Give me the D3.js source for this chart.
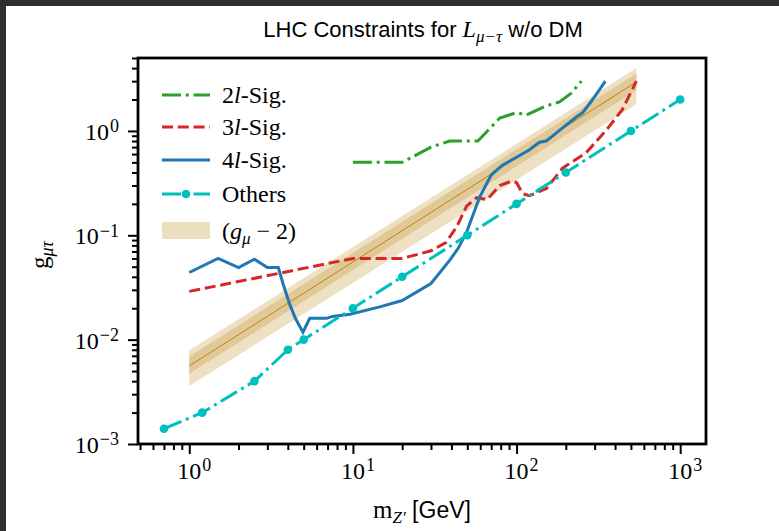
<!DOCTYPE html>
<html>
<head>
<meta charset="utf-8">
<script src="https://cdn.jsdelivr.net/npm/d3@7"></script>
<style>
  body { margin: 0; background: #fff; }
  svg text { fill: #000; }
</style>
</head>
<body>
<svg id="chart" width="779" height="531"></svg>
<script>
// values
const others_m = [0.7, 1.2, 2.5, 4, 5, 10, 20, 50, 100, 200, 500, 1000];
const others_g = [0.0014, 0.002, 0.004, 0.008, 0.01, 0.02, 0.04, 0.1, 0.2, 0.4, 1.0, 2.0];

const sig2_m = [10, 20, 30, 39, 58, 79, 100, 115, 152, 183, 216, 249];
const sig2_g = [0.5, 0.5, 0.7, 0.8, 0.8, 1.33, 1.5, 1.42, 1.74, 1.9, 2.3, 3.0];

const sig3_m = [1, 10, 20, 30, 37, 43, 49.5, 57, 66, 79, 93, 100, 109, 120, 152, 191, 267, 354, 443, 540];
const sig3_g = [0.029, 0.06, 0.06, 0.071, 0.085, 0.12, 0.19, 0.23, 0.22, 0.3, 0.33, 0.32, 0.25, 0.24, 0.28, 0.44, 0.62, 1.02, 1.6, 3.0];

const sig4_m = [1, 1.5, 2, 2.5, 3, 3.5, 3.75, 4.1, 4.45, 4.95, 5.45, 6.9, 7.5, 9.6, 14.6, 20, 30, 39, 44, 49.5, 59.5, 70, 82, 100, 120, 138, 152, 191, 232, 253, 291, 349];
const sig4_g = [0.044, 0.06, 0.049, 0.059, 0.049, 0.049, 0.034, 0.022, 0.016, 0.0118, 0.016, 0.016, 0.0167, 0.0175, 0.0206, 0.0237, 0.0345, 0.0575, 0.075, 0.107, 0.232, 0.378, 0.47, 0.56, 0.66, 0.78, 0.8, 1.07, 1.36, 1.49, 1.99, 3.0];

// (g_mu - 2) band: central value with 1 and 2 sigma edges
const band_m = [1, 540];
const band_mid = [0.0056, 2.95];
const band_lo1 = [0.0047, 2.45];
const band_hi1 = [0.0069, 3.55];
const band_lo2 = [0.0036, 1.8];
const band_hi2 = [0.0079, 4.0];

const xMajor = [1, 10, 100, 1000];
const yMajor = [1e-3, 1e-2, 1e-1, 1];
const xLabels = ['0', '1', '2', '3'];
const yLabels = ['−3', '−2', '−1', '0'];

const svg = d3.select('#chart');
const pLeft = 138, pTop = 58, pRight = 706, pBottom = 444;

const x = d3.scaleLog().domain([0.486, 1438]).range([pLeft, pRight]);
const y = d3.scaleLog().domain([1e-3, 5]).range([pBottom, pTop]);

const LW = 3;
const DASHDOT = '19,4.8,3,4.8';
const DASHED = '11,4.8';

// dark border of the screenshot
svg.append('rect').attr('x', 0).attr('y', 0).attr('width', 779).attr('height', 6).attr('fill', '#2f2f2f');
svg.append('rect').attr('x', 0).attr('y', 0).attr('width', 6).attr('height', 531).attr('fill', '#2f2f2f');

svg.append('clipPath').attr('id', 'clip')
  .append('rect')
  .attr('x', pLeft).attr('y', pTop)
  .attr('width', pRight - pLeft).attr('height', pBottom - pTop);

const plot = svg.append('g').attr('clip-path', 'url(#clip)');

const bandData = band_m.map((m, i) => ({
  m, mid: band_mid[i], lo1: band_lo1[i], hi1: band_hi1[i], lo2: band_lo2[i], hi2: band_hi2[i]
}));

plot.append('path')
  .datum(bandData)
  .attr('fill', '#eee1c3')
  .attr('d', d3.area().x(d => x(d.m)).y0(d => y(d.lo2)).y1(d => y(d.hi2)));
plot.append('path')
  .datum(bandData)
  .attr('fill', '#e0c898')
  .attr('d', d3.area().x(d => x(d.m)).y0(d => y(d.lo1)).y1(d => y(d.hi1)));
plot.append('path')
  .datum(bandData)
  .attr('fill', 'none')
  .attr('stroke', '#b8860b')
  .attr('stroke-width', 1)
  .attr('d', d3.line().x(d => x(d.m)).y(d => y(d.mid)));

const line = d3.line().x(d => x(d[0])).y(d => y(d[1]));
const zip = (a, b) => a.map((v, i) => [v, b[i]]);

const series = [
  { name: '2l', m: sig2_m, g: sig2_g, color: '#2ca02c', dash: DASHDOT },
  { name: '3l', m: sig3_m, g: sig3_g, color: '#d62728', dash: DASHED },
  { name: '4l', m: sig4_m, g: sig4_g, color: '#1f77b4', dash: null },
  { name: 'others', m: others_m, g: others_g, color: '#00bfbf', dash: DASHDOT }
];

series.forEach(s => {
  plot.append('path')
    .datum(zip(s.m, s.g))
    .attr('fill', 'none')
    .attr('stroke', s.color)
    .attr('stroke-width', LW)
    .attr('stroke-dasharray', s.dash)
    .attr('d', line);
});

plot.selectAll('circle.others')
  .data(zip(others_m, others_g))
  .enter()
  .append('circle')
  .attr('cx', d => x(d[0]))
  .attr('cy', d => y(d[1]))
  .attr('r', 4.3)
  .attr('fill', '#00bfbf');

// axes ticks
const minorTicks = (scale) => {
  const [a, b] = scale.domain();
  const out = [];
  for (let e = Math.floor(Math.log10(a)); e <= Math.ceil(Math.log10(b)); e += 1) {
    for (let k = 2; k <= 9; k += 1) {
      const v = k * Math.pow(10, e);
      if (v >= a && v <= b * 1.0001) out.push(v);
    }
  }
  return out;
};

const styleAxis = g => {
  g.select('.domain').remove();
  g.selectAll('line').attr('stroke', '#000').attr('stroke-width', 2);
};

svg.append('g')
  .attr('transform', `translate(0,${pBottom})`)
  .call(d3.axisBottom(x).tickValues(xMajor).tickSize(10).tickFormat(''))
  .call(styleAxis);
svg.append('g')
  .attr('transform', `translate(0,${pBottom})`)
  .call(d3.axisBottom(x).tickValues(minorTicks(x)).tickSize(6).tickFormat(''))
  .call(styleAxis);
svg.append('g')
  .attr('transform', `translate(${pLeft},0)`)
  .call(d3.axisLeft(y).tickValues(yMajor).tickSize(10).tickFormat(''))
  .call(styleAxis);
svg.append('g')
  .attr('transform', `translate(${pLeft},0)`)
  .call(d3.axisLeft(y).tickValues(minorTicks(y)).tickSize(6).tickFormat(''))
  .call(styleAxis);

// frame
svg.append('rect')
  .attr('x', pLeft).attr('y', pTop)
  .attr('width', pRight - pLeft).attr('height', pBottom - pTop)
  .attr('fill', 'none').attr('stroke', '#000').attr('stroke-width', 2.8);

const serif = "'Liberation Serif', 'DejaVu Serif', serif";
const sans = "'Liberation Sans', Arial, sans-serif";

const powLabel = (g, exp) => {
  g.append('tspan').text('10');
  g.append('tspan').attr('dy', '-0.42em').attr('font-size', '0.75em').attr('dx', 1).text(exp);
};

xMajor.forEach((v, i) => {
  svg.append('text')
    .attr('x', x(v) + 5)
    .attr('y', 479)
    .attr('text-anchor', 'middle')
    .attr('font-family', serif)
    .attr('font-size', 24)
    .call(powLabel, xLabels[i]);
});
yMajor.forEach((v, i) => {
  svg.append('text')
    .attr('x', 119)
    .attr('y', y(v) + 9)
    .attr('text-anchor', 'end')
    .attr('font-family', serif)
    .attr('font-size', 24)
    .call(powLabel, yLabels[i]);
});

// title
const title = svg.append('text')
  .attr('x', 423)
  .attr('y', 37)
  .attr('text-anchor', 'middle')
  .attr('font-family', sans)
  .attr('font-size', 22);
title.append('tspan').text('LHC Constraints for ');
title.append('tspan').attr('font-family', serif).attr('font-style', 'italic').attr('font-size', 24).text('L');
title.append('tspan').attr('font-family', serif).attr('font-style', 'italic').attr('font-size', 17).attr('dy', 5).text('μ−τ');
title.append('tspan').attr('dy', -5).text(' w/o DM');

// x label
const xl = svg.append('text')
  .attr('x', 422)
  .attr('y', 518)
  .attr('text-anchor', 'middle')
  .attr('font-family', serif)
  .attr('font-size', 25);
xl.append('tspan').text('m');
xl.append('tspan').attr('font-style', 'italic').attr('font-size', 17).attr('dy', 5).text('Z′');
xl.append('tspan').attr('font-family', sans).attr('font-size', 23).attr('dy', -5).text(' [GeV]');

// y label
const yl = svg.append('text')
  .attr('transform', 'translate(48,255) rotate(-90)')
  .attr('text-anchor', 'middle')
  .attr('font-family', serif)
  .attr('font-size', 25);
yl.append('tspan').text('g');
yl.append('tspan').attr('font-style', 'italic').attr('font-size', 18).attr('dy', 5).text('μτ');

// legend
const legendRows = [
  { key: '2', label: '-Sig.', color: '#2ca02c', dash: DASHDOT, y: 95 },
  { key: '3', label: '-Sig.', color: '#d62728', dash: DASHED, y: 127 },
  { key: '4', label: '-Sig.', color: '#1f77b4', dash: null, y: 160 },
  { key: 'others', color: '#00bfbf', dash: DASHDOT, y: 194 }
];
const legend = svg.append('g');
const lx0 = 162, lx1 = 210, tx = 222;
legendRows.forEach(r => {
  legend.append('line')
    .attr('x1', lx0).attr('x2', lx1)
    .attr('y1', r.y).attr('y2', r.y)
    .attr('stroke', r.color).attr('stroke-width', LW)
    .attr('stroke-dasharray', r.dash);
  const t = legend.append('text')
    .attr('x', tx).attr('y', r.y + 8)
    .attr('font-family', serif).attr('font-size', 24);
  if (r.key === 'others') {
    legend.append('circle').attr('cx', (lx0 + lx1) / 2).attr('cy', r.y).attr('r', 4.3).attr('fill', r.color);
    t.text('Others');
  } else {
    t.append('tspan').text(r.key);
    t.append('tspan').attr('font-style', 'italic').text('l');
    t.append('tspan').text(r.label);
  }
});
legend.append('rect')
  .attr('x', lx0).attr('y', 222).attr('width', lx1 - lx0).attr('height', 17)
  .attr('fill', '#ecdfbf');
const bt = legend.append('text')
  .attr('x', tx).attr('y', 239)
  .attr('font-family', serif).attr('font-size', 24);
bt.append('tspan').text('(');
bt.append('tspan').attr('font-style', 'italic').text('g');
bt.append('tspan').attr('font-style', 'italic').attr('font-size', 17).attr('dy', 5).text('μ');
bt.append('tspan').attr('dy', -5).text(' − 2)');
</script>
</body>
</html>
